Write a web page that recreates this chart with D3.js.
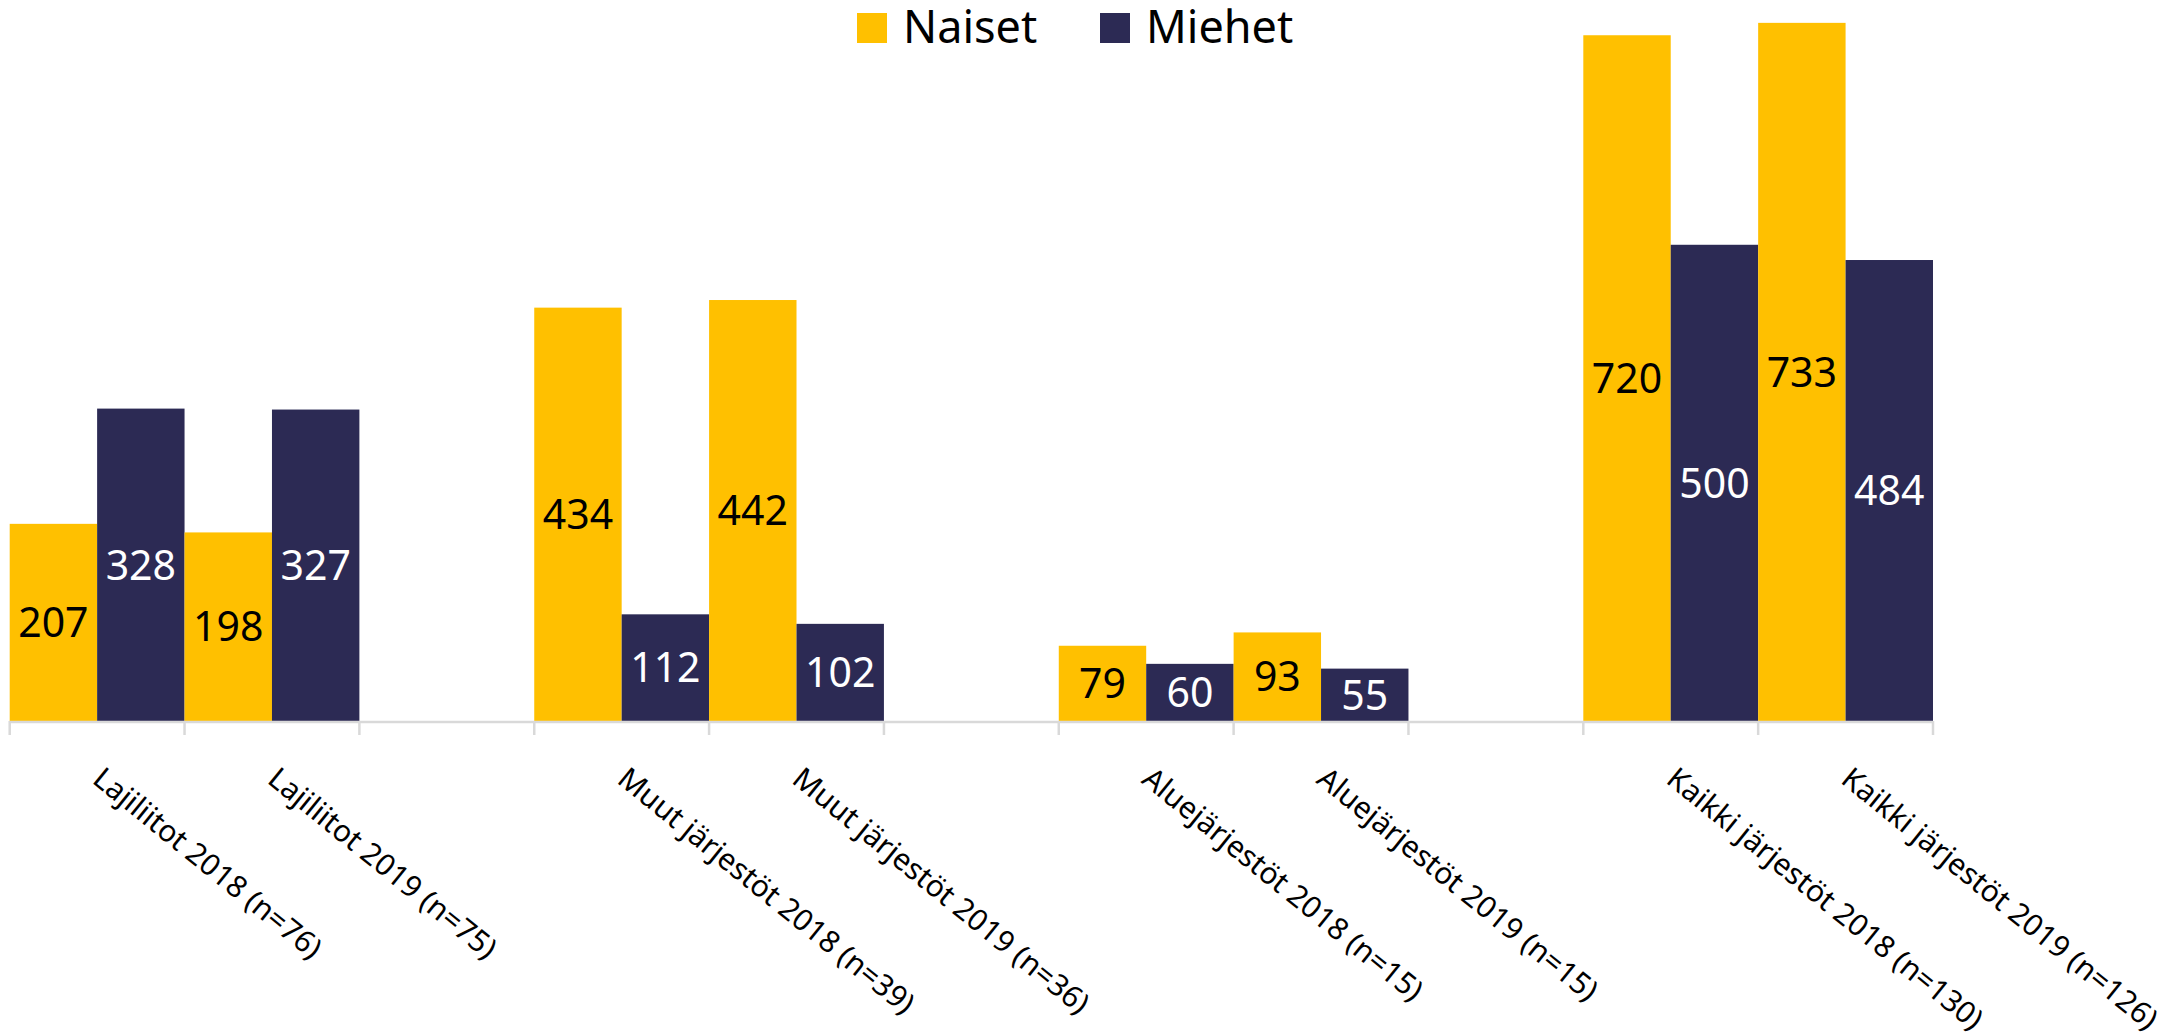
<html>
<meta charset="utf-8">
<script src="https://cdn.jsdelivr.net/npm/d3@7"></script>
<style>
body{
  margin: 0;
  background-color: white;
}
text{
  font-family: "Noto Sans", sans-serif;
}
.axisLine{
  stroke: #d9d9d9;
  stroke-width: 2.5;
}
</style>
<body>
<div id="chartDiv"></div>
<script>
// categories, "" = empty slot between groups
var categories = ["Lajiliitot 2018 (n=76)", "Lajiliitot 2019 (n=75)", "",
                  "Muut järjestöt 2018 (n=39)", "Muut järjestöt 2019 (n=36)", "",
                  "Aluejärjestöt 2018 (n=15)", "Aluejärjestöt 2019 (n=15)", "",
                  "Kaikki järjestöt 2018 (n=130)", "Kaikki järjestöt 2019 (n=126)"];
var naiset = [207, 198, null, 434, 442, null, 79, 93, null, 720, 733];
var miehet = [328, 327, null, 112, 102, null, 60, 55, null, 500, 484];
var seriesNames = ["Naiset", "Miehet"];
var seriesCols = ["#ffc000", "#2c2a54"],
    labelCols = ["black", "white"];

var width = 2182, height = 1032;
var baseY = 721;

var svg = d3.select("#chartDiv").append("svg").attr("width", width).attr("height", height);

var x = d3.scaleBand().domain(d3.range(categories.length)).range([9.7, 1933]).padding(0);
var xs = d3.scaleBand().domain(seriesNames).range([0, x.bandwidth()]).padding(0);
var y = d3.scaleLinear().domain([0, 757]).range([baseY, 0]);

var rows = [];
categories.forEach(function(c, i){
  if (naiset[i] == null) return;
  rows.push({i: i, s: "Naiset", v: naiset[i], k: 0});
  rows.push({i: i, s: "Miehet", v: miehet[i], k: 1});
});

var barG = svg.append("g");
barG.selectAll("rect").data(rows).enter().append("rect")
  .attr("x", function(d){ return x(d.i) + xs(d.s); })
  .attr("width", xs.bandwidth())
  .attr("y", function(d){ return y(d.v); })
  .attr("height", function(d){ return y(0) - y(d.v); })
  .style("fill", function(d){ return seriesCols[d.k]; });

barG.selectAll(".val").data(rows).enter().append("text")
  .attr("class", "val")
  .attr("x", function(d){ return x(d.i) + xs(d.s) + xs.bandwidth() / 2; })
  .attr("y", function(d){ return (y(d.v) + y(0)) / 2; })
  .attr("dy", "0.36em")
  .attr("text-anchor", "middle")
  .style("font-size", "41px")
  .style("fill", function(d){ return labelCols[d.k]; })
  .text(function(d){ return d.v; });

// axis line and ticks at slot edges
var axisG = svg.append("g");
axisG.append("line").attr("class", "axisLine")
  .attr("x1", x.range()[0]).attr("x2", x.range()[1])
  .attr("y1", baseY + 1).attr("y2", baseY + 1);
var edges = d3.range(categories.length + 1).map(function(i){
  return i < categories.length ? x(i) : x.range()[1];
});
axisG.selectAll(".tick").data(edges).enter().append("line")
  .attr("class", "axisLine")
  .attr("x1", function(d){ return d; }).attr("x2", function(d){ return d; })
  .attr("y1", baseY).attr("y2", baseY + 14);

// rotated category labels
axisG.selectAll(".cat").data(categories.map(function(c, i){ return {c: c, i: i}; }).filter(function(d){ return d.c; }))
  .enter().append("text")
  .attr("class", "cat")
  .attr("transform", function(d){
    return "translate(" + (x(d.i) + x.bandwidth() / 2 - 6) + "," + 782 + ") rotate(39)";
  })
  .style("font-size", "30px")
  .style("fill", "black")
  .text(function(d){ return d.c; });

// legend
var legend = svg.append("g").selectAll("g").data(seriesNames).enter().append("g")
  .attr("transform", function(d, i){ return "translate(" + [857, 1100][i] + ",13)"; });
legend.append("rect").attr("width", 30).attr("height", 30)
  .style("fill", function(d, i){ return seriesCols[i]; });
legend.append("text").attr("x", 46).attr("y", 30)
  .style("font-size", "45px")
  .text(function(d){ return d; });
</script>
</body>
</html>
